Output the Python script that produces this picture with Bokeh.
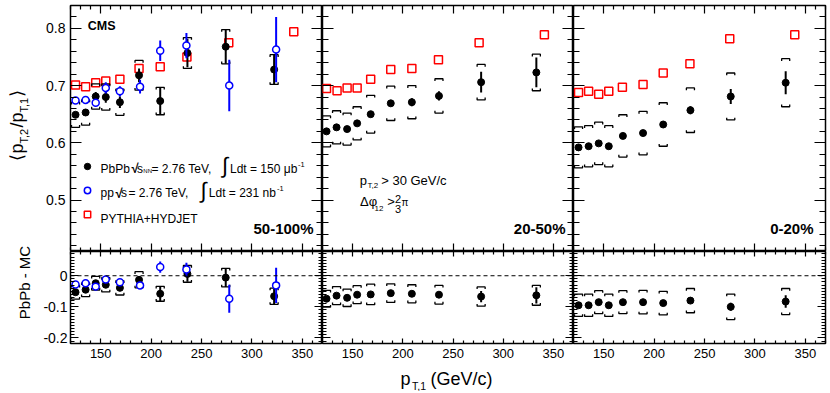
import math
from bokeh.plotting import figure
from bokeh.models import (Range1d, FixedTicker, LinearAxis, Label, Span,
                          CustomJSTickFormatter, Legend, LegendItem)
from bokeh.layouts import row, column
from bokeh.embed import file_html
from bokeh.resources import INLINE

# ---------------- data ----------------
centralities = ["50-100%", "20-50%", "0-20%"]

# 50-100%
x_pbpb_p1 = [125, 135, 145, 155, 169, 188, 209, 236, 274, 322]
y_pbpb_p1 = [0.649, 0.653, 0.681, 0.680, 0.671, 0.718, 0.673, 0.757, 0.768, 0.728]
stat_pbpb_p1 = [0.004, 0.005, 0.008, 0.010, 0.010, 0.012, 0.024, 0.025, 0.030, 0.027]
sys_pbpb_p1 = [0.022, 0.022, 0.022, 0.023, 0.023, 0.026, 0.024, 0.027, 0.030, 0.026]
x_pp_p1 = [125, 135, 145, 155, 169, 189, 209, 235, 277.5, 324]
y_pp_p1 = [0.674, 0.675, 0.670, 0.696, 0.690, 0.698, 0.761, 0.770, 0.700, 0.763]
stat_pp_p1 = [0.003, 0.004, 0.006, 0.010, 0.009, 0.012, 0.018, 0.022, 0.045, 0.057]
x_mc_p1 = [125, 135, 145, 155, 169, 188, 209, 235.5, 277, 341.5]
y_mc_p1 = [0.701, 0.698, 0.705, 0.708, 0.711, 0.730, 0.733, 0.750, 0.775, 0.794]
diff_pbpb_p1 = [-0.053, -0.045, -0.024, -0.029, -0.039, -0.013, -0.058, 0.006, -0.006, -0.066]
diff_pp_p1 = [-0.028, -0.024, -0.035, -0.012, -0.021, -0.031, 0.028, 0.020, -0.074, -0.031]

# 20-50%
x_pbpb_p2 = [124, 134, 144.5, 154.5, 168, 188, 209, 236, 278, 333]
y_pbpb_p2 = [0.620, 0.627, 0.624, 0.634, 0.650, 0.669, 0.671, 0.682, 0.706, 0.723]
stat_pbpb_p2 = [0.003, 0.003, 0.004, 0.004, 0.005, 0.005, 0.007, 0.008, 0.018, 0.026]
sys_pbpb_p2 = [0.027, 0.029, 0.028, 0.029, 0.033, 0.030, 0.029, 0.030, 0.031, 0.032]
x_mc_p2 = [124, 134.5, 144.5, 154.5, 168, 188, 209, 235.5, 276, 341]
y_mc_p2 = [0.695, 0.691, 0.696, 0.696, 0.711, 0.728, 0.730, 0.745, 0.775, 0.789]
diff_pbpb_p2 = [-0.074, -0.064, -0.071, -0.061, -0.060, -0.056, -0.058, -0.061, -0.067, -0.063]

# 0-20%
x_pbpb_p3 = [125, 135, 145, 155, 169, 189, 209, 236, 276, 330.5]
y_pbpb_p3 = [0.592, 0.594, 0.599, 0.594, 0.612, 0.617, 0.632, 0.657, 0.681, 0.705]
stat_pbpb_p3 = [0.003, 0.003, 0.003, 0.003, 0.004, 0.004, 0.005, 0.007, 0.013, 0.020]
sys_pbpb_p3 = [0.036, 0.036, 0.037, 0.036, 0.037, 0.038, 0.038, 0.039, 0.041, 0.042]
x_mc_p3 = [125, 135, 145, 155, 168.5, 189, 209, 235.5, 275, 339.5]
y_mc_p3 = [0.688, 0.690, 0.685, 0.690, 0.697, 0.702, 0.722, 0.738, 0.782, 0.789]
diff_pbpb_p3 = [-0.095, -0.095, -0.085, -0.095, -0.085, -0.085, -0.088, -0.080, -0.100, -0.083]

# ticks
x_ticks = [150, 200, 250, 300, 350]
x_tick_labels = ["150", "200", "250", "300", "350"]
x_minor = [120, 130, 140, 160, 170, 180, 190, 210, 220, 230, 240, 260, 270, 280, 290,
           310, 320, 330, 340, 360, 370]
top_y_ticks = [0.5, 0.6, 0.7, 0.8]
top_y_labels = ["0.5", "0.6", "0.7", "0.8"]
top_y_minor = [0.42, 0.44, 0.46, 0.48, 0.52, 0.54, 0.56, 0.58, 0.62, 0.64, 0.66, 0.68,
               0.72, 0.74, 0.76, 0.78, 0.82, 0.84]
bot_y_ticks = [-0.2, -0.1, 0.0]
bot_y_labels = ["-0.2", "-0.1", "0"]
bot_y_minor = [-0.21, -0.19, -0.18, -0.17, -0.16, -0.15, -0.14, -0.13, -0.12, -0.11,
               -0.09, -0.08, -0.07, -0.06, -0.05, -0.04, -0.03, -0.02, -0.01,
               0.01, 0.02, 0.03, 0.04, 0.05, 0.06, 0.07]

FONT = "Liberation Sans"
RED = "#ff0000"
BLUE = "#0000ff"

TITLE_W = 33
FRAME_W = [252, 251, 252]
TOP_H, BOT_H = 246, 92
LEFT_B, BOT_B, TOP_B, RIGHT_B = 37, 22, 5, 4
XTITLE_H = 26
TOP_RANGE = (0.41, 0.84)
BOT_RANGE = (-0.218, 0.078)


def style_axis(ax, major, minor, tin, tmin, labels=None, size="14px", standoff=5):
    ax.ticker = FixedTicker(ticks=major, minor_ticks=minor)
    ax.major_tick_in = tin
    ax.major_tick_out = 0
    ax.minor_tick_in = tmin
    ax.minor_tick_out = 0
    ax.major_tick_line_color = "black"
    ax.minor_tick_line_color = "black"
    ax.major_tick_line_width = 1.2
    ax.minor_tick_line_width = 1.2
    ax.axis_line_color = None
    ax.axis_label = None
    if labels is None:
        ax.formatter = CustomJSTickFormatter(code="return '';")
        ax.major_label_text_font_size = "0px"
        ax.major_label_standoff = 0
    else:
        ax.formatter = CustomJSTickFormatter(
            args=dict(tvals=major, tlabs=labels),
            code="for (let k = 0; k < tvals.length; k++) { if (Math.abs(tvals[k] - tick) < 1e-9) { return tlabs[k]; } } return '';")
        ax.major_label_text_font = FONT
        ax.major_label_text_font_size = size
        ax.major_label_text_color = "black"
        ax.major_label_standoff = standoff


def make_fig(i, top):
    fw = FRAME_W[i]
    lb = LEFT_B if i == 0 else 0
    rb = RIGHT_B if i == 2 else 0
    if top:
        w, h, yr, tb, bb = fw + lb + rb, TOP_H + TOP_B, TOP_RANGE, TOP_B, 0
    else:
        w, h, yr, tb, bb = fw + lb + rb, BOT_H + BOT_B, BOT_RANGE, 0, BOT_B
    p = figure(width=w, height=h, x_range=Range1d(120, 370), y_range=Range1d(*yr),
               output_backend="svg", toolbar_location=None,
               min_border_left=lb, min_border_right=rb, min_border_top=tb, min_border_bottom=bb)
    p.grid.visible = False
    p.outline_line_color = "black"
    p.outline_line_width = 1.5
    p.outline_line_alpha = 1.0
    p.background_fill_color = "white"
    p.border_fill_color = "white"
    p.add_layout(LinearAxis(), "above")
    p.add_layout(LinearAxis(), "right")
    if top:
        ymaj, ymin, yin, ymn, ystand = top_y_ticks, top_y_minor, 11, 6, 5
        xin, xmn = 8, 4
        ylabels = top_y_labels if i == 0 else None
        xlabels = None
    else:
        ymaj, ymin, yin, ymn, ystand = bot_y_ticks, bot_y_minor, 8, 4, 3
        xin, xmn = 5, 3
        ylabels = bot_y_labels if i == 0 else None
        xlabels = x_tick_labels
    style_axis(p.left[0], ymaj, ymin, yin, ymn, ylabels, "14px", ystand)
    style_axis(p.right[0], ymaj, ymin, yin, ymn, None)
    style_axis(p.below[0], x_ticks, x_minor, xin, xmn, xlabels, "13px", 5)
    style_axis(p.above[0], x_ticks, x_minor, xin, xmn, None)
    return p


def blank_fig(w, h):
    p = figure(width=w, height=h, x_range=Range1d(0, 1), y_range=Range1d(0, 1),
               x_axis_type=None, y_axis_type=None, output_backend="svg",
               toolbar_location=None, min_border_left=0, min_border_right=0,
               min_border_top=0, min_border_bottom=0)
    p.outline_line_color = None
    p.background_fill_color = "white"
    p.border_fill_color = "white"
    return p


def lab(p, text, sx, sy, size, bold=False, angle=0.0, align="left", color="black"):
    p.add_layout(Label(x=sx, y=sy, x_units="screen", y_units="screen", text=text,
                       text_font=FONT, text_font_size=f"{size}px",
                       text_font_style="bold" if bold else "normal",
                       text_align=align, text_baseline="alphabetic",
                       angle=angle, angle_units="rad", text_color=color))


def draw_mc(p, x, y):
    return p.scatter(x, y, marker="square", size=8, fill_alpha=0,
                     line_color=RED, line_width=1.5)


def draw_pbpb(p, x, y, stat, sys, tick):
    lo = [a - b for a, b in zip(y, stat)]
    hi = [a + b for a, b in zip(y, stat)]
    xs, ys = [], []
    for xi, yi, si in zip(x, y, sys):
        xs.append([xi - 4, xi - 4, xi + 4, xi + 4])
        ys.append([yi + si - tick, yi + si, yi + si, yi + si - tick])
        xs.append([xi - 4, xi - 4, xi + 4, xi + 4])
        ys.append([yi - si + tick, yi - si, yi - si, yi - si + tick])
    p.multi_line(xs, ys, line_color="black", line_width=1.3)
    p.segment(x0=x, y0=lo, x1=x, y1=hi, line_color="black", line_width=2)
    return p.scatter(x, y, marker="circle", size=7, fill_color="black", line_color="black")


def draw_pp(p, x, y, stat):
    lo = [a - b for a, b in zip(y, stat)]
    hi = [a + b for a, b in zip(y, stat)]
    p.segment(x0=x, y0=lo, x1=x, y1=hi, line_color=BLUE, line_width=2)
    return p.scatter(x, y, marker="circle", size=7, fill_color="white",
                     line_color=BLUE, line_width=1.5)


tops = [make_fig(i, True) for i in range(3)]
bots = [make_fig(i, False) for i in range(3)]

# ---- top panels ----
r_mc1 = draw_mc(tops[0], x_mc_p1, y_mc_p1)
r_pb1 = draw_pbpb(tops[0], x_pbpb_p1, y_pbpb_p1, stat_pbpb_p1, sys_pbpb_p1, 0.004)
r_pp1 = draw_pp(tops[0], x_pp_p1, y_pp_p1, stat_pp_p1)
draw_mc(tops[1], x_mc_p2, y_mc_p2)
draw_pbpb(tops[1], x_pbpb_p2, y_pbpb_p2, stat_pbpb_p2, sys_pbpb_p2, 0.004)
draw_mc(tops[2], x_mc_p3, y_mc_p3)
draw_pbpb(tops[2], x_pbpb_p3, y_pbpb_p3, stat_pbpb_p3, sys_pbpb_p3, 0.004)

# ---- bottom panels ----
for b in bots:
    b.add_layout(Span(location=0, dimension="width", line_color="black",
                      line_dash="4 3", line_width=1))
draw_pbpb(bots[0], x_pbpb_p1, diff_pbpb_p1, stat_pbpb_p1, sys_pbpb_p1, 0.007)
draw_pp(bots[0], x_pp_p1, diff_pp_p1, stat_pp_p1)
draw_pbpb(bots[1], x_pbpb_p2, diff_pbpb_p2, stat_pbpb_p2, sys_pbpb_p2, 0.007)
draw_pbpb(bots[2], x_pbpb_p3, diff_pbpb_p3, stat_pbpb_p3, sys_pbpb_p3, 0.007)

# ---- legend (glyph keys) ----
leg = Legend(items=[LegendItem(label="", renderers=[r_pb1]),
                    LegendItem(label="", renderers=[r_pp1]),
                    LegendItem(label="", renderers=[r_mc1])],
             location=(9, 29), glyph_width=16, glyph_height=16, spacing=8,
             padding=0, margin=0, border_line_alpha=0, background_fill_alpha=0,
             label_text_font_size="8px", label_height=16, label_width=0, label_standoff=0)
tops[0].add_layout(leg)

t1 = tops[0]
# legend texts (screen px from the frame's bottom-left)
lab(t1, "PbPb", 30, 82.7, 12)
lab(t1, "\u221a", 61, 82.7, 13, bold=True)
lab(t1, "s", 66.5, 82.7, 12)
lab(t1, "NN", 72.8, 80.5, 6)
lab(t1, "= 2.76 TeV,", 81, 82.7, 12)
lab(t1, "\u222b", 151.5, 86, 22)
lab(t1, "Ldt = 150 \u03bcb", 159.5, 82.7, 12)
lab(t1, "-1", 227.5, 87, 7.5)
lab(t1, "pp", 30, 58.3, 12)
lab(t1, "\u221a", 45, 58.3, 13, bold=True)
lab(t1, "s", 50.5, 58.3, 12)
lab(t1, "= 2.76 TeV,", 58, 58.3, 12)
lab(t1, "\u222b", 130, 61.5, 22)
lab(t1, "Ldt = 231 nb", 138.3, 58.3, 12)
lab(t1, "-1", 206.5, 62.6, 7.5)
lab(t1, "PYTHIA+HYDJET", 30, 32.7, 12)
lab(t1, "CMS", 17.3, 225.7, 12.5, bold=True)

# centrality labels
cent_x = [243, 243, 240]
for p, txt, cx in zip(tops, centralities, cent_x):
    lab(p, txt, cx, 22.7, 15, bold=True, align="right")

# cuts text in middle panel
t2 = tops[1]
lab(t2, "p", 37.3, 71, 13)
lab(t2, "T,2", 45, 66, 8)
lab(t2, "> 30 GeV/c", 58.7, 71, 13)
lab(t2, "\u0394\u03c6", 37.5, 50, 13)
lab(t2, "12", 52, 43, 8)
lab(t2, ">", 64.7, 50, 13)
lab(t2, "2", 72.5, 52.7, 11)
lab(t2, "3", 72.5, 42.7, 11)
lab(t2, "\u03c0", 79, 49.5, 10)

# ---- axis titles on their own blank canvases ----
A = math.pi / 2
ycol_h = TOP_H + TOP_B + BOT_H + BOT_B
ytit = blank_fig(TITLE_W, ycol_h)
lab(ytit, "\u27e8", 16.5, ycol_h - 160, 18, angle=A)
lab(ytit, "p", 16.5, ycol_h - 153, 18, angle=A)
lab(ytit, "T,2", 23.5, ycol_h - 143, 11, angle=A)
lab(ytit, "/", 16.5, ycol_h - 127, 18, angle=A)
lab(ytit, "p", 16.5, ycol_h - 122, 18, angle=A)
lab(ytit, "T,1", 23.5, ycol_h - 112, 11, angle=A)
lab(ytit, "\u27e9", 16.5, ycol_h - 96, 18, angle=A)
lab(ytit, "PbPb - MC", 23.5, ycol_h - 282, 15, angle=A, align="center")

total_w = TITLE_W + sum(FRAME_W) + LEFT_B + RIGHT_B
xtit = blank_fig(total_w, XTITLE_H)
lab(xtit, "p", 400, 13, 18)
lab(xtit, "T,1", 411.5, 6, 10.5)
lab(xtit, "(GeV/c)", 430, 13, 18)

panels = column(row(*tops), row(*bots))
layout = column(row(ytit, panels), xtit)
open("out.html", "w").write(file_html(layout, INLINE))
